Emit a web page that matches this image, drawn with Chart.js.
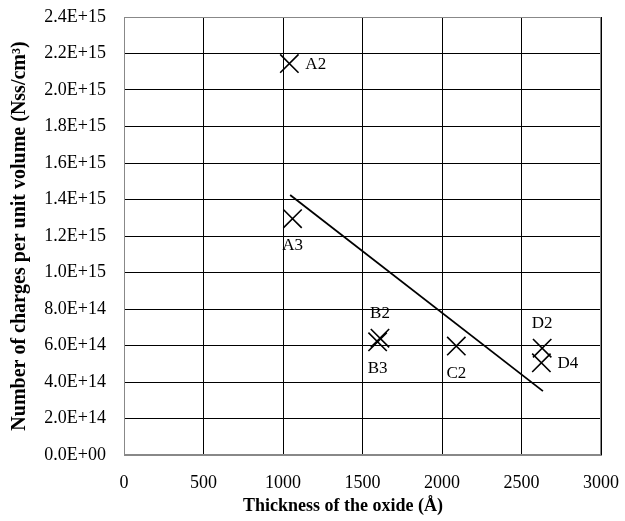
<!DOCTYPE html>
<html>
<head>
<meta charset="utf-8">
<script src="https://cdn.jsdelivr.net/npm/chart.js@4"></script>
<style>
  html, body { margin: 0; padding: 0; background: #fff; }
  #wrap { width: 625px; height: 521px; }
</style>
</head>
<body>
<div id="wrap"><canvas id="c" width="625" height="521"></canvas></div>
<script>
// Samples: oxide thickness (Å) vs. charge density (Nss/cm^3)
var sampleNames = ["A2", "A3", "B2", "B3", "C2", "D2", "D4"];
var thickness   = [1040, 1060, 1610, 1595, 2090, 2630, 2625];
var chargeDens  = [2.145e15, 1.295e15, 6.4e14, 6.2e14, 5.97e14, 5.85e14, 5.05e14];
// where each sample label sits relative to its marker
var labelSide   = ["right", "below", "above", "below", "below", "above", "right"];

// fitted trend line end points
var trendX = [1045, 2635];
var trendY = [1.425e15, 3.5e14];

var xTicks = [0, 500, 1000, 1500, 2000, 2500, 3000];
var yTicks = [0, 2e14, 4e14, 6e14, 8e14, 1e15, 1.2e15, 1.4e15, 1.6e15, 1.8e15, 2e15, 2.2e15, 2.4e15];

var xTitle = "Thickness of the oxide (Å)";
var yTitle = "Number of charges per unit volume (Nss/cm³)";

var serif = "'Liberation Serif', 'Times New Roman', serif";

function sci(v) {
  if (v === 0) return "0.0E+00";
  var e = Math.floor(Math.log10(v) + 1e-9);
  var m = v / Math.pow(10, e);
  return m.toFixed(1) + "E+" + (e < 10 ? "0" + e : e);
}

// draws the sample names next to the markers
var labelPlugin = {
  id: "sampleLabels",
  afterDatasetsDraw: function (chart) {
    var ctx = chart.ctx;
    var xs = chart.scales.x, ys = chart.scales.y;
    ctx.save();
    ctx.font = "17px " + serif;
    ctx.fillStyle = "#000";
    sampleNames.forEach(function (name, i) {
      var px = xs.getPixelForValue(thickness[i]);
      var py = ys.getPixelForValue(chargeDens[i]);
      var side = labelSide[i];
      if (side === "right") {
        ctx.textAlign = "left"; ctx.textBaseline = "middle";
        ctx.fillText(name, px + 16, py + 1);
      } else if (side === "below") {
        ctx.textAlign = "center"; ctx.textBaseline = "middle";
        ctx.fillText(name, px, py + 27);
      } else {
        ctx.textAlign = "center"; ctx.textBaseline = "middle";
        ctx.fillText(name, px, py - 25);
      }
    });
    ctx.restore();
  }
};

// x title sits a little left of the plot centre in the original
var xTitlePlugin = {
  id: "xTitle",
  afterDraw: function (chart) {
    var ctx = chart.ctx;
    ctx.save();
    ctx.font = "bold 18px " + serif;
    ctx.fillStyle = "#000";
    ctx.textAlign = "center";
    ctx.textBaseline = "middle";
    ctx.fillText(xTitle, 343, 506);
    ctx.restore();
  }
};

new Chart(document.getElementById("c"), {
  type: "scatter",
  data: {
    datasets: [{
      data: thickness.map(function (x, i) { return { x: x, y: chargeDens[i] }; }),
      pointStyle: "crossRot",
      pointRadius: 13,
      pointBorderColor: "#000",
      pointBorderWidth: 1.6,
      showLine: false
    }, {
      type: "line",
      data: trendX.map(function (x, i) { return { x: x, y: trendY[i] }; }),
      borderColor: "#000",
      borderWidth: 1.8,
      pointRadius: 0,
      fill: false
    }]
  },
  options: {
    responsive: false,
    animation: false,
    layout: { padding: { top: 17, right: 24, left: 0, bottom: 0 } },
    plugins: { legend: { display: false }, tooltip: { enabled: false } },
    scales: {
      x: {
        type: "linear",
        min: 0, max: 3000,
        afterBuildTicks: function (axis) {
          axis.ticks = xTicks.map(function (v) { return { value: v }; });
        },
        afterFit: function (axis) {
          axis.height = 66;
          axis.paddingLeft = 0; axis.paddingRight = 0;
        },
        ticks: {
          color: "#000", font: { family: serif, size: 18 }, padding: 17,
          callback: function (v) { return String(v); }
        },
        grid: { color: "#000", drawTicks: false },
        border: { color: "#888" },
        title: { display: false }
      },
      y: {
        type: "linear",
        min: 0, max: 2.4e15,
        afterBuildTicks: function (axis) {
          axis.ticks = yTicks.map(function (v) { return { value: v }; });
        },
        afterFit: function (axis) {
          axis.width = 124;
          axis.paddingTop = 0; axis.paddingBottom = 0;
        },
        ticks: {
          color: "#000", font: { family: serif, size: 18 }, padding: 18,
          callback: function (v) { return sci(v); }
        },
        grid: { color: "#000", drawTicks: false },
        border: { color: "#888" },
        title: {
          display: true, text: yTitle, color: "#000",
          font: { family: serif, size: 20, weight: "bold" }, padding: { top: 8, bottom: 0 }
        }
      }
    }
  },
  plugins: [labelPlugin, xTitlePlugin, {
    id: "frame",
    afterDraw: function (chart) {
      var a = chart.chartArea, ctx = chart.ctx;
      ctx.save();
      ctx.strokeStyle = "#888";
      ctx.lineWidth = 1;
      ctx.strokeRect(a.left + 0.5, a.top + 0.5, a.width - 1, a.height - 1);
      ctx.restore();
    }
  }]
});
</script>
</body>
</html>
